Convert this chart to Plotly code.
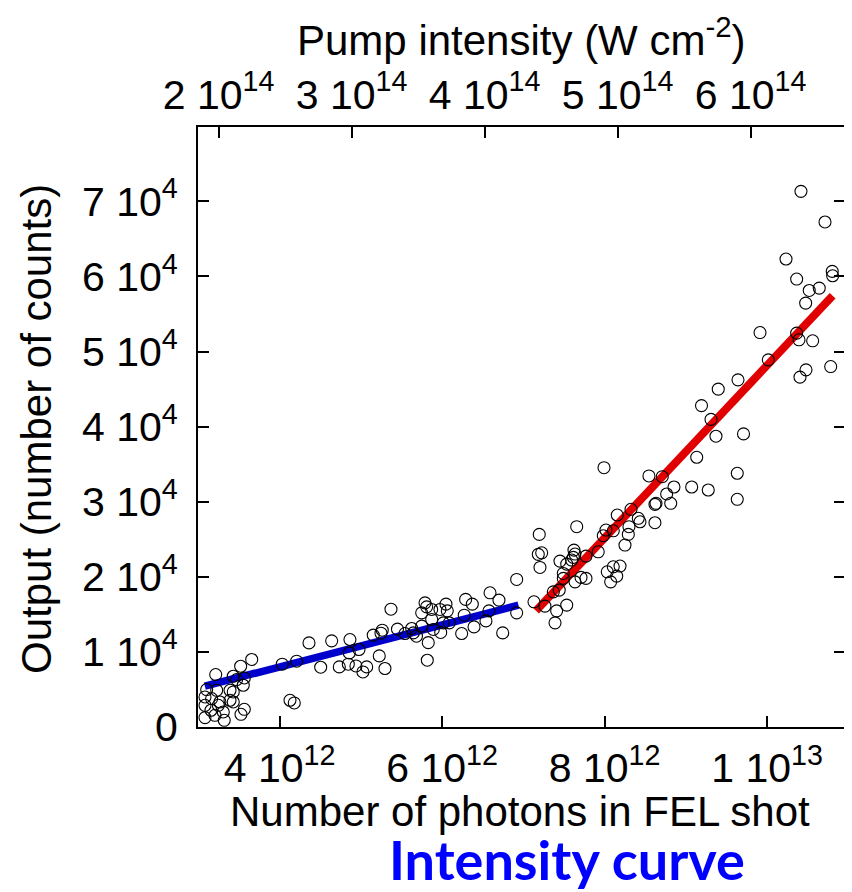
import plotly.graph_objects as go

# ---- data (photons in 1e12 units, counts) ----
photons_e12 = [3.214, 3.103, 3.226, 3.390, 3.430, 3.082, 3.164, 3.266, 3.390, 3.430,
               3.082, 3.246, 3.156, 3.307, 3.566, 3.525, 3.082, 3.205, 3.319, 3.430,
               3.566, 3.472, 3.553, 3.521, 3.657, 4.033, 4.210, 4.128, 4.181, 4.362,
               4.506, 4.641, 4.735, 4.866, 4.858, 4.846, 4.940, 4.977, 5.072, 5.026,
               5.153, 5.227, 5.297, 5.264, 5.248, 5.371, 5.451, 5.543, 5.626, 5.646,
               5.685, 5.749, 5.749, 5.790, 5.810, 5.830, 5.818, 5.872, 5.872, 5.892,
               5.974, 5.983, 6.015, 6.048, 6.064, 6.089, 6.241, 6.273, 6.290, 6.372,
               6.393, 6.540, 6.577, 6.590, 6.700, 6.746, 6.918, 6.918, 7.131, 7.266,
               7.410, 7.390, 7.534, 7.369, 7.442, 7.492, 7.492, 7.636, 7.710, 7.771,
               7.196, 7.184, 7.226, 7.205, 7.623, 7.636, 7.595, 7.451, 7.534, 7.771,
               7.922, 7.615, 7.657, 8.033, 8.107, 8.190, 8.149, 8.075, 8.017, 8.107,
               7.984, 8.251, 8.292, 8.300, 8.156, 8.325, 8.415, 8.436, 8.620, 8.620,
               7.993, 8.546, 8.710, 8.854, 8.764, 8.633, 8.814, 9.072, 9.276, 9.134,
               9.193, 9.310, 9.371, 9.710, 9.633, 9.633, 9.399, 9.642, 9.913, 10.015,
               10.233, 10.364, 10.364, 10.393, 10.405, 10.479, 10.417, 10.475, 10.519, 10.561,
               10.642, 10.713, 10.783, 10.802, 10.807]
counts = [6990, 4990, 4890, 4890, 4670, 4000, 3790, 3330, 3560, 3330,
          2890, 2890, 2230, 2000, 2360, 1690, 1250, 1560, 890, 6760,
          6530, 6320, 5560, 8090, 8990, 8360, 8760, 3560, 3200, 11200,
          7960, 11470, 8000, 11650, 9870, 8360, 8130, 10320, 8000, 7330,
          12230, 9470, 7790, 12890, 12490, 15690, 13030, 12450, 13120, 12530,
          12090, 13430, 15200, 16530, 16000, 11230, 8890, 15650, 14320, 12990,
          15650, 12590, 13870, 16360, 15470, 13870, 12450, 14890, 16990, 16360,
          13330, 14130, 15470, 17870, 16890, 12530, 19650, 15200, 16670, 16090,
          15470, 13870, 16230, 18000, 18230, 20450, 19790, 19330, 19920, 19790,
          25650, 22990, 23200, 21250, 23560, 23030, 22230, 22090, 21690, 22760,
          23330, 22590, 26670, 20670, 21330, 21430, 20090, 19330, 26230, 26130,
          25470, 24230, 25650, 26670, 28230, 28990, 27790, 27330, 29650, 27200,
          34530, 33430, 33330, 31960, 31030, 29790, 29790, 31960, 31560, 35920,
          42800, 40960, 38720, 39030, 33790, 30320, 44990, 46230, 52530, 48890,
          62320, 59650, 52450, 51560, 46590, 47560, 71330, 56450, 58130, 51430,
          58450, 67250, 48000, 60670, 60090]

# linear fits (endpoints)
blue_fit_x_e12 = [3.08, 6.94]
blue_fit_y = [5430, 16230]
red_fit_x_e12 = [7.156, 10.807]
red_fit_y = [15470, 57430]

# ticks
x_tickvals = [4e12, 6e12, 8e12, 1e13]
x_ticktext = ["4 10<sup>12</sup>", "6 10<sup>12</sup>", "8 10<sup>12</sup>", "1 10<sup>13</sup>"]
top_tickvals = [2e14, 3e14, 4e14, 5e14, 6e14]
top_ticktext = ["2 10<sup>14</sup>", "3 10<sup>14</sup>", "4 10<sup>14</sup>",
                "5 10<sup>14</sup>", "6 10<sup>14</sup>"]
y_tickvals = [0, 1e4, 2e4, 3e4, 4e4, 5e4, 6e4, 7e4]
y_ticktext = ["0"] + ["%d 10<sup>4</sup>" % i for i in range(1, 8)]

x_range = [2.996e12, 1.0959e13]
top_range = [1.845e14, 6.71e14]
y_range = [0, 79900]

FONT = "Liberation Sans, Arial, sans-serif"

photons = [p * 1e12 for p in photons_e12]

fig = go.Figure()
fig.add_trace(go.Scatter(x=[p * 1e12 for p in blue_fit_x_e12], y=blue_fit_y, mode="lines",
                         line=dict(color="#0000cc", width=7.5), showlegend=False))
fig.add_trace(go.Scatter(x=[p * 1e12 for p in red_fit_x_e12], y=red_fit_y, mode="lines",
                         line=dict(color="#e00000", width=8), showlegend=False))
fig.add_trace(go.Scatter(x=photons, y=counts, mode="markers",
                         marker=dict(symbol="circle-open", size=12, color="black",
                                     line=dict(width=1.1, color="black")),
                         showlegend=False))
# invisible trace to activate top axis
fig.add_trace(go.Scatter(x=top_tickvals, y=[None] * len(top_tickvals), xaxis="x2",
                         mode="markers", showlegend=False, hoverinfo="skip"))

axis_common = dict(showgrid=False, zeroline=False, showline=True, linecolor="black",
                   linewidth=2, ticks="inside", ticklen=11, tickwidth=1.5,
                   tickcolor="black", automargin=False,
                   tickfont=dict(family=FONT, size=41, color="black"))

# page body has an 8px margin, so the figure is offset by 8px in the window
fig.update_layout(
    width=844, height=884,
    margin=dict(l=190, r=7, t=119, b=165),
    paper_bgcolor="white", plot_bgcolor="white",
    xaxis=dict(range=x_range, tickvals=x_tickvals, ticktext=x_ticktext,
               mirror=False, ticklabelstandoff=4, **axis_common),
    xaxis2=dict(range=top_range, tickvals=top_tickvals, ticktext=top_ticktext,
                overlaying="x", side="top", anchor="y", ticklabelstandoff=0, **axis_common),
    yaxis=dict(range=y_range, tickvals=y_tickvals, ticktext=y_ticktext,
               mirror="ticks", ticklabelstandoff=10, **axis_common),
    annotations=[
        dict(text="Number of photons in FEL shot", xref="paper", yref="paper",
             x=(520 - 198) / 647, y=(727 - 811) / 600, showarrow=False,
             font=dict(family=FONT, size=42, color="black"), xanchor="center", yanchor="middle"),
        dict(text="Pump intensity (W cm<sup>-2</sup>)", xref="paper", yref="paper",
             x=(521 - 198) / 647, y=(727 - 37) / 600, showarrow=False,
             font=dict(family=FONT, size=42, color="black"), xanchor="center", yanchor="middle"),
        dict(text="Output (number of counts)", xref="paper", yref="paper",
             x=(36 - 198) / 647, y=(727 - 429) / 600, showarrow=False, textangle=-90,
             font=dict(family=FONT, size=42, color="black"), xanchor="center", yanchor="middle"),
        dict(text="<b>Intensity curve</b>", xref="paper", yref="paper",
             x=(567 - 198) / 647, y=(727 - 859) / 600, showarrow=False,
             font=dict(family="Lato, Open Sans, sans-serif", size=54, color="#0000ff"),
             xanchor="center", yanchor="middle"),
    ],
)

fig.write_html("out.html")
